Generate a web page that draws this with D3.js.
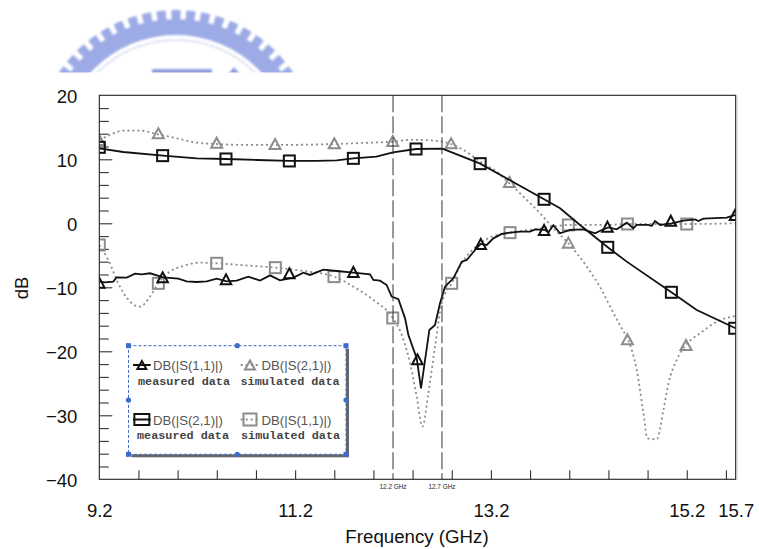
<!DOCTYPE html>
<html>
<head>
<meta charset="utf-8">
<script src="https://cdn.jsdelivr.net/npm/d3@7"></script>
<style>
html,body{margin:0;padding:0;background:#fff;overflow:hidden}
svg{display:block}
text{font-family:"Liberation Sans",Arial,sans-serif}
</style>
</head>
<body>
<svg id="chart" width="759" height="549"></svg>
<script>
// ---------- data (GHz, dB) ----------
const xLabelTicks = [9.2, 11.2, 13.2, 15.2, 15.7];
const xMinorTicks = [9.6,10,10.4,10.8,11.2,11.6,12,12.4,12.8,13.2,13.6,14,14.4,14.8,15.2,15.6];
const yLabelTicks = [20,10,0,-10,-20,-30,-40];
const yMinorTicks = [18,16,14,12,8,6,4,2,-2,-4,-6,-8,-12,-14,-16,-18,-22,-24,-26,-28,-32,-34,-36,-38];
const yMajorTicks = [10,0,-10,-20,-30];
const cursorFreqs = [12.2, 12.7];
const cursorLabels = ["12.2 GHz", "12.7 GHz"];

const measS21Freq = [9.2,9.445,9.85,10.195,10.495,10.81,11.14,11.42,11.625,11.795,12.03,12.2,12.435,12.704,12.885,13.09,13.39,13.743,13.906,14.11,14.393,14.587,15.043,15.302,15.677,15.7];
const measS21Db   = [11.7,11.14,10.57,10.15,10.05,9.89,9.74,9.74,9.84,10.15,10.41,11.09,11.61,11.66,10.57,9.32,6.77,3.75,2.34,-0.26,-3.75,-5.99,-10.78,-13.54,-16.25,-16.4];
const measS21MarkFreq = [9.2,9.847,10.494,11.141,11.795,12.435,13.09,13.743,14.393,15.043,15.69];
const measS21MarkDb   = [11.87,10.57,10.05,9.74,10.15,11.61,9.32,3.75,-3.75,-10.78,-16.4];

const measS11Freq = [9.2,9.258,9.343,9.377,9.48,9.565,9.633,9.718,9.854,10.007,10.092,10.195,10.297,10.399,10.501,10.603,10.722,10.842,10.944,11.046,11.182,11.284,11.352,11.489,11.625,11.795,11.965,11.999,12.067,12.135,12.186,12.255,12.323,12.357,12.442,12.486,12.527,12.571,12.629,12.68,12.731,12.816,12.902,12.953,13.038,13.096,13.157,13.225,13.31,13.395,13.498,13.6,13.651,13.753,13.787,13.838,13.906,14.008,14.144,14.264,14.332,14.4,14.485,14.587,14.655,14.689,14.808,14.842,14.876,14.928,15.047,15.166,15.285,15.319,15.37,15.608,15.7];
const measS11Db   = [-9.12,-9.22,-9.12,-8.44,-8.49,-7.87,-7.97,-7.81,-8.44,-8.65,-9.06,-9.17,-9.06,-8.65,-9.06,-8.96,-8.33,-8.96,-8.13,-8.91,-8.49,-7.71,-8.07,-7.24,-7.45,-7.71,-7.97,-8.86,-8.96,-9.64,-11.46,-11.85,-14.85,-17.45,-21.1,-25.8,-21.36,-16.67,-15.89,-12.5,-9.9,-8.6,-5.99,-5.73,-4.17,-3.23,-3.39,-2.35,-1.67,-1.46,-1.3,-1.3,-0.94,-1.04,-1.41,-0.31,-1.56,-1.04,-0.94,-1.56,-1.04,-0.63,-0.94,0.1,-0.78,-0.26,-0.26,-0.42,0.36,-0.26,0,0.41,0.62,0.36,0.73,0.88,1.3];
const measS11MarkFreq = [9.2,9.847,10.494,11.141,11.795,12.449,13.096,13.743,14.39,15.037,15.693];
const measS11MarkDb   = [-9.27,-8.44,-8.75,-7.81,-7.6,-21.25,-3.23,-1.04,-0.52,0.41,1.3];

const simS21Freq = [9.2,9.309,9.445,9.616,9.803,9.99,10.195,10.399,10.705,10.995,11.6,11.965,12.204,12.34,12.476,12.704,12.8,12.919,13.092,13.259,13.389,13.497,13.702,13.838,13.991,14.179,14.349,14.383,14.536,14.594,14.689,14.758,14.798,14.894,14.962,15.013,15.098,15.193,15.336,15.507,15.7];
const simS21Db   = [13.02,13.8,14.48,14.48,13.9,13.28,12.6,12.39,12.24,12.24,12.39,12.6,12.76,13.02,13.02,12.76,12.34,11.46,9.63,8.07,6.25,4.69,1.56,-0.78,-3.13,-6.77,-10.94,-11.98,-16.41,-17.97,-22.92,-29.69,-33.6,-33.75,-29.17,-25,-21.36,-19,-17.19,-15.37,-14.48];
const simS21MarkFreq = [9.2,9.803,10.399,10.995,11.6,12.197,12.793,13.389,13.991,14.594,15.193];
const simS21MarkDb   = [13.02,14.06,12.6,12.39,12.5,12.86,12.5,6.46,-3.02,-18.13,-19];

const simS11Freq = [9.2,9.292,9.394,9.514,9.616,9.718,9.803,9.922,10.058,10.229,10.399,10.637,10.995,11.284,11.6,11.795,11.999,12.197,12.289,12.374,12.442,12.5,12.561,12.629,12.697,12.799,12.902,13.089,13.208,13.395,13.736,13.991,14.383,14.594,15.2,15.7];
const simS11Db   = [-3.39,-5.73,-9.38,-12.24,-13.02,-11.46,-9.38,-7.55,-6.67,-6.15,-6.25,-6.51,-6.93,-7.45,-8.33,-9.9,-11.98,-14.79,-17.45,-21.88,-27.09,-31.77,-26.57,-19.27,-12.5,-9.38,-6.25,-3.13,-2.09,-1.46,-0.78,-0.26,-0.26,-0.11,-0.11,0];
const simS11MarkFreq = [9.2,9.803,10.399,10.998,11.597,12.197,12.799,13.395,13.991,14.594,15.2];
const simS11MarkDb   = [-3.39,-9.38,-6.25,-6.93,-8.33,-14.79,-9.38,-1.46,-0.26,-0.11,-0.11];

const legendRow1 = ["DB(|S(1,1)|)", "DB(|S(2,1)|)"];
const legendRow2 = ["DB(|S(2,1)|)", "DB(|S(1,1)|)"];
const legendMeasured = "measured data";
const legendSimulated = "simulated data";

// ---------- layout ----------
const L = 99.3, R = 735.7, T = 95.3, B = 479.3;
const BLACK = "#111", GREY = "#8c8c8c", BLUE = "#3a6cc8";
const svg = d3.select("#chart");
const x = d3.scaleLinear().domain([9.2, 15.7]).range([L, R]);
const y = d3.scaleLinear().domain([20, -40]).range([T, B]);

// ---------- watermark logo, cut off by the pasted plot ----------
const defs = svg.append("defs");
defs.append("filter").attr("id","soft").append("feGaussianBlur").attr("stdDeviation",0.9);
defs.append("clipPath").attr("id","logoClip").append("rect").attr("x",0).attr("y",0).attr("width",759).attr("height",72.5);
defs.append("clipPath").attr("id","plotClip").append("rect").attr("x",L).attr("y",T).attr("width",R-L).attr("height",B-T);

const logo = svg.append("g").attr("clip-path","url(#logoClip)")
  .append("g").attr("filter","url(#soft)").attr("transform","translate(176,151)");
const LOGO = "#9caae6";
logo.append("path").attr("fill",LOGO)
  .attr("d", d3.arc().innerRadius(116).outerRadius(132).startAngle(-Math.PI/2).endAngle(Math.PI/2)());
const toothStep = 6.1 * Math.PI / 180;
logo.selectAll("path.tooth").data(d3.range(-14, 15)).join("path").attr("class","tooth")
  .attr("fill", LOGO)
  .attr("d", i => d3.arc().innerRadius(130).outerRadius(141)
     .startAngle(i*toothStep - toothStep*0.31).endAngle(i*toothStep + toothStep*0.31)());
logo.append("path").attr("fill","none").attr("stroke","#c4cbea").attr("stroke-width",1.2).attr("stroke-dasharray","3 2")
  .attr("d", d3.arc().innerRadius(111).outerRadius(111).startAngle(-Math.PI/2).endAngle(Math.PI/2)());
logo.append("rect").attr("x",-24).attr("y",-82).attr("width",60).attr("height",8).attr("fill","#8f9fdc");
logo.append("path").attr("d","M48 -72 L58 -84 L68 -72 Z").attr("fill","#8f9fdc");

// ---------- axes ----------
const axisG = svg.append("g");
const styleAxis = g => { g.selectAll("path.domain").remove(); g.selectAll("line").attr("stroke","#333").attr("stroke-width",1.1); };

axisG.append("g").attr("transform",`translate(0,${B})`)
  .call(d3.axisBottom(x).tickValues(xMinorTicks).tickSize(-9).tickFormat(""))
  .call(styleAxis);
axisG.append("g").attr("transform",`translate(${L},0)`)
  .call(d3.axisLeft(y).tickValues(yMinorTicks).tickSize(-9.5).tickFormat(""))
  .call(styleAxis);
axisG.append("g").attr("transform",`translate(${L},0)`)
  .call(d3.axisLeft(y).tickValues(yMajorTicks).tickSize(-13).tickFormat(""))
  .call(styleAxis);

const xLab = axisG.append("g").attr("transform",`translate(0,${B})`)
  .call(d3.axisBottom(x).tickValues(xLabelTicks).tickSize(0).tickPadding(24.5).tickFormat(d3.format(".1f")));
xLab.select("path.domain").remove();
xLab.selectAll("text").attr("font-size",18.5).attr("fill","#111").attr("font-family",'"Liberation Sans",Arial,sans-serif');

const yLab = axisG.append("g").attr("transform",`translate(${L},1.6)`)
  .call(d3.axisLeft(y).tickValues(yLabelTicks).tickSize(0).tickPadding(22).tickFormat(d3.format("d")));
yLab.select("path.domain").remove();
yLab.selectAll("text").attr("font-size",18.5).attr("fill","#111").attr("font-family",'"Liberation Sans",Arial,sans-serif');

svg.append("text").attr("x",417).attr("y",543).attr("text-anchor","middle").attr("font-size",18.7).attr("fill","#111").text("Frequency (GHz)");
svg.append("text").attr("transform","translate(28,288) rotate(-90)").attr("text-anchor","middle").attr("font-size",18.5).attr("fill","#111").text("dB");

// ---------- series ----------
const plot = svg.append("g").attr("clip-path","url(#plotClip)");
const straight = d3.line().x(d => x(d[0])).y(d => y(d[1]));
const smooth = d3.line().x(d => x(d[0])).y(d => y(d[1])).curve(d3.curveMonotoneX);

const triangle = (w, h) => (sel, color) =>
  sel.append("path").attr("d",`M0 ${-h/2} L${w/2} ${h/2} L${-w/2} ${h/2} Z`).attr("fill","none").attr("stroke",color).attr("stroke-width",2);
const square = (w, h) => (sel, color) =>
  sel.append("rect").attr("x",-w/2).attr("y",-h/2).attr("width",w).attr("height",h).attr("fill","none").attr("stroke",color).attr("stroke-width",2);

function drawSeries(fx, fy, mx, my, gen, color, dash, width, marker){
  plot.append("path").datum(d3.zip(fx, fy)).attr("d", gen).attr("fill","none")
    .attr("stroke", color).attr("stroke-width", width).attr("stroke-dasharray", dash);
  plot.selectAll(null).data(d3.zip(mx, my)).join("g")
    .attr("transform", d => `translate(${x(d[0])},${y(d[1])})`)
    .each(function(){ marker(d3.select(this), color); });
}
drawSeries(simS21Freq, simS21Db, simS21MarkFreq, simS21MarkDb, smooth, GREY, "2 3", 1.8, triangle(11,10));
drawSeries(simS11Freq, simS11Db, simS11MarkFreq, simS11MarkDb, smooth, GREY, "2 3", 1.8, square(11,11));

// frequency cursors
svg.append("g").selectAll("line").data(cursorFreqs).join("line")
  .attr("x1", d => x(d)).attr("x2", d => x(d)).attr("y1", T).attr("y2", B)
  .attr("stroke","#333").attr("stroke-width",1).attr("stroke-dasharray","17 4");
svg.append("g").selectAll("text").data(cursorFreqs).join("text")
  .attr("x", d => x(d)).attr("y", B + 9.8).attr("text-anchor","middle").attr("font-size",6.4).attr("fill","#222")
  .text((d,i) => cursorLabels[i]);

drawSeries(measS11Freq, measS11Db, measS11MarkFreq, measS11MarkDb, straight, BLACK, null, 1.8, triangle(10.5,10));
drawSeries(measS21Freq, measS21Db, measS21MarkFreq, measS21MarkDb, straight, BLACK, null, 1.8, square(11,11));

// frame
svg.append("rect").attr("x",L).attr("y",T).attr("width",R-L).attr("height",B-T).attr("fill","none").attr("stroke","#222").attr("stroke-width",1.1);
svg.append("line").attr("x1",R+1.3).attr("x2",R+1.3).attr("y1",T).attr("y2",B).attr("stroke","#c8c8c8").attr("stroke-width",1);

// ---------- legend ----------
const lg = svg.append("g");
const LX0 = 128.5, LX1 = 346, LY0 = 345.7, LY1 = 454.3;
lg.append("rect").attr("x",LX0+3).attr("y",LY0+3).attr("width",LX1-LX0).attr("height",LY1-LY0).attr("fill","#666");
lg.append("rect").attr("x",LX0).attr("y",LY0).attr("width",LX1-LX0).attr("height",LY1-LY0)
  .attr("fill","#fff").attr("stroke",BLUE).attr("stroke-width",1).attr("stroke-dasharray","3 2");
[[LX0,LY0],[LX1,LY0],[LX0,LY1],[LX1,LY1]].forEach(p =>
  lg.append("rect").attr("x",p[0]-2.5).attr("y",p[1]-2.5).attr("width",5).attr("height",5).attr("fill",BLUE));
[[(LX0+LX1)/2,LY0],[(LX0+LX1)/2,LY1],[LX0,(LY0+LY1)/2],[LX1,(LY0+LY1)/2]].forEach(p =>
  lg.append("circle").attr("cx",p[0]).attr("cy",p[1]).attr("r",2.6).attr("fill",BLUE));

function legendEntry(x0, x1, my, color, dash, marker, label, labelX, labelY, sub, subX, subY){
  lg.append("line").attr("x1",x0).attr("x2",x1).attr("y1",my).attr("y2",my)
    .attr("stroke",color).attr("stroke-width",2).attr("stroke-dasharray",dash);
  const m = lg.append("g").attr("transform",`translate(${(x0+x1)/2},${my})`);
  marker(m, color);
  lg.append("text").attr("x",labelX).attr("y",labelY).attr("font-size",13.2).attr("fill","#555").text(label);
  lg.append("text").attr("x",subX).attr("y",subY).attr("font-size",11.8).attr("font-weight","bold").attr("fill","#444")
    .style("font-family",'"Liberation Mono",monospace').text(sub);
}
legendEntry(133,150.7,365,BLACK,null,triangle(9,8),legendRow1[0],153,370,legendMeasured,138,385);
legendEntry(240.7,259.3,365,GREY,"2 3",triangle(10,9),legendRow1[1],261.5,370,legendSimulated,240.5,385);
legendEntry(133,150.7,419.5,BLACK,null,square(15,11),legendRow2[0],153,425,legendMeasured,137,439);
legendEntry(240.7,259.3,419.5,GREY,"2 3",square(13,12),legendRow2[1],261.5,425,legendSimulated,241,439);
</script>
</body>
</html>
